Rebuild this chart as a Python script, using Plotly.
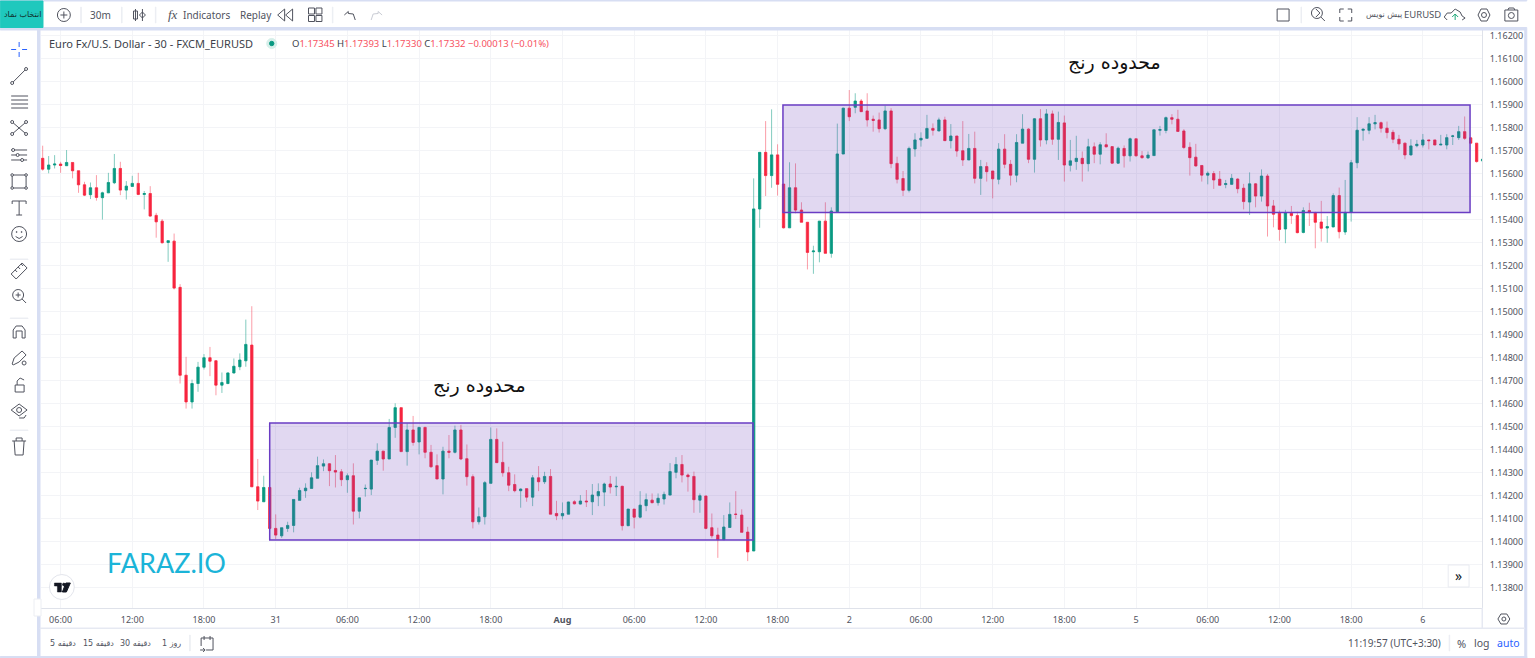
import numpy as np
import plotly.graph_objects as go

# EURUSD 30m candles, prices in points (1e-5)
open_pts = [
    115668,115621,115639,115643,115636,115650,115614,115553,115510,115540,
    115497,115518,115562,115624,115530,115546,115559,115511,115515,115420,
    115395,115302,115308,115107,114725,114609,114689,114760,114801,114788,
    114682,114689,114735,114762,114788,114856,114240,114175,114237,114059,
    114027,114059,114072,114181,114223,114233,114277,114330,114340,114311,
    114305,114271,114288,114134,114232,114230,114355,114395,114361,114498,
    114584,114393,114487,114435,114498,114390,114332,114274,114395,114390,
    114487,114362,114284,114088,114110,114255,114446,114346,114301,114250,
    114223,114232,114195,114279,114262,114285,114124,114114,114121,114175,
    114165,114178,114175,114201,114217,114252,114240,114242,114071,114143,
    114108,114158,114182,114171,114187,114204,114303,114337,114291,114285,
    114182,114200,114062,114030,114010,114063,114121,114117,114043,113961,
    115448,115694,115593,115683,115556,115366,115540,115443,115390,115262,
    115262,115395,115255,115436,115687,115886,115890,115917,115874,115838,
    115835,115797,115874,115646,115580,115529,115709,115748,115755,115798,
    115787,115835,115745,115765,115701,115661,115711,115581,115632,115613,
    115577,115708,115642,115595,115734,115795,115664,115840,115748,115861,
    115751,115822,115638,115654,115668,115645,115718,115686,115727,115719,
    115647,115711,115679,115753,115679,115670,115680,115790,115789,115845,
    115838,115787,115716,115673,115637,115595,115602,115577,115554,115555,
    115578,115538,115478,115557,115504,115591,115461,115429,115361,115429,
    115419,115346,115441,115432,115391,115365,115370,115506,115348,115433,
    115649,115790,115790,115818,115823,115799,115781,115751,115734,115683,
    115723,115726,115748,115748,115726,115726,115764,115758,115784,115757,
    115734,115657,
]
high_pts = [
    115723,115678,115682,115653,115704,115650,115614,115566,115563,115595,
    115523,115605,115687,115653,115569,115592,115605,115526,115547,115431,
    115404,115310,115341,115121,114805,114706,114783,114817,114848,114790,
    114737,114737,114798,114820,114967,115025,114361,114288,114237,114120,
    114062,114088,114185,114236,114255,114303,114371,114359,114343,114378,
    114317,114298,114342,114192,114250,114356,114429,114395,114535,114603,
    114584,114516,114548,114501,114501,114422,114381,114414,114465,114506,
    114509,114424,114294,114150,114265,114498,114494,114436,114327,114294,
    114233,114233,114291,114330,114305,114317,114179,114172,114175,114182,
    114204,114226,114252,114255,114258,114287,114284,114245,114143,114143,
    114221,114211,114211,114211,114219,114343,114369,114378,114298,114306,
    114211,114201,114124,114062,114117,114172,114221,114142,114066,115581,
    115694,115830,115881,115729,115556,115651,115646,115477,115390,115288,
    115395,115477,115455,115819,115888,115965,115951,115926,115951,115854,
    115867,115897,115886,115675,115613,115719,115777,115781,115857,115820,
    115845,115849,115817,115765,115830,115774,115784,115661,115651,115613,
    115734,115773,115661,115773,115860,115799,115843,115882,115882,115876,
    115871,115854,115748,115766,115698,115753,115737,115738,115777,115719,
    115719,115724,115758,115753,115700,115698,115792,115809,115850,115860,
    115879,115795,115738,115731,115639,115611,115613,115613,115574,115600,
    115581,115557,115607,115560,115620,115600,115487,115441,115444,115461,
    115436,115455,115475,115436,115483,115417,115516,115541,115574,115661,
    115847,115799,115847,115857,115828,115828,115792,115770,115736,115751,
    115748,115774,115748,115748,115770,115773,115770,115809,115850,115760,
    115734,115668,
]
low_pts = [
    115614,115603,115624,115605,115636,115581,115518,115504,115491,115484,
    115402,115518,115556,115508,115489,115546,115508,115446,115414,115323,
    115298,115218,115098,114689,114580,114580,114653,114750,114721,114638,
    114648,114686,114733,114747,114762,114240,114139,114175,114059,114013,
    114018,114044,114042,114181,114192,114233,114277,114308,114243,114237,
    114243,114214,114076,114103,114197,114204,114335,114310,114361,114453,
    114393,114332,114419,114381,114364,114323,114274,114207,114364,114385,
    114356,114245,114059,114076,114076,114255,114345,114284,114221,114216,
    114149,114175,114156,114221,114252,114121,114095,114098,114121,114163,
    114163,114152,114117,114156,114156,114211,114200,114050,114069,114059,
    114103,114134,114168,114158,114163,114204,114277,114259,114219,114127,
    114127,114055,114016,113931,114010,114063,114100,114042,113917,113961,
    115366,115504,115540,115506,115363,115366,115429,115390,115185,115166,
    115216,115255,115236,115436,115687,115830,115864,115871,115806,115784,
    115780,115791,115625,115559,115504,115520,115675,115719,115755,115767,
    115787,115745,115711,115675,115635,115661,115559,115509,115567,115494,
    115555,115625,115550,115564,115734,115647,115606,115719,115729,115727,
    115661,115567,115611,115618,115567,115611,115647,115642,115716,115644,
    115644,115628,115654,115676,115666,115666,115680,115767,115777,115816,
    115785,115708,115593,115632,115567,115555,115535,115550,115538,115552,
    115516,115446,115422,115455,115480,115328,115368,115310,115299,115383,
    115342,115342,115374,115277,115306,115301,115368,115320,115335,115393,
    115625,115745,115773,115794,115780,115755,115734,115705,115664,115680,
    115716,115715,115707,115726,115726,115707,115726,115748,115748,115734,
    115649,115657,
]
close_pts = [
    115621,115639,115643,115637,115650,115614,115553,115508,115540,115498,
    115518,115563,115624,115530,115547,115559,115511,115515,115417,115392,
    115301,115310,115104,114725,114609,114689,114760,114801,114786,114682,
    114693,114735,114764,114791,114859,114240,114178,114237,114059,114030,
    114062,114072,114185,114224,114234,114279,114332,114340,114310,114304,
    114271,114288,114134,114192,114233,114356,114395,114361,114498,114584,
    114393,114487,114433,114498,114390,114327,114274,114395,114390,114487,
    114361,114284,114088,114110,114258,114446,114345,114301,114247,114223,
    114230,114195,114279,114262,114285,114121,114114,114124,114174,114166,
    114178,114175,114204,114219,114252,114239,114242,114071,114143,114108,
    114160,114184,114171,114190,114207,114306,114337,114291,114284,114184,
    114201,114059,114027,114010,114065,114120,114120,114042,113957,115448,
    115694,115593,115683,115555,115366,115540,115443,115390,115259,115265,
    115395,115255,115439,115687,115886,115849,115917,115871,115835,115833,
    115797,115874,115645,115577,115529,115711,115748,115755,115798,115790,
    115835,115745,115765,115700,115661,115711,115581,115632,115610,115579,
    115708,115642,115595,115737,115795,115664,115840,115748,115861,115751,
    115824,115639,115657,115668,115645,115718,115686,115727,115718,115647,
    115712,115679,115753,115679,115671,115682,115792,115793,115845,115838,
    115785,115715,115671,115635,115595,115603,115574,115551,115558,115581,
    115536,115480,115557,115504,115591,115461,115425,115359,115432,115419,
    115345,115441,115432,115390,115364,115371,115506,115349,115433,115649,
    115790,115794,115818,115823,115799,115780,115751,115731,115683,115722,
    115729,115748,115745,115726,115729,115758,115765,115784,115755,115734,
    115654,115664,
]

# every 12th bar gets a time label, starting at bar 4
time_labels = ["06:00", "12:00", "18:00", "31", "06:00", "12:00", "18:00", "<b>Aug</b>",
               "06:00", "12:00", "18:00", "2", "06:00", "12:00", "18:00", "5",
               "06:00", "12:00", "18:00", "6"]
time_ticks = [4 + 12 * i for i in range(len(time_labels))]

# the two range boxes: first bar, last bar, top price, bottom price
range_low_box = [39.0, 119.9, 1.14517, 1.14009]
range_high_box = [124.9, 239.9, 1.15900, 1.15432]

GREEN = "#089981"
RED = "#f7253f"
GREEN_WICK = "rgba(8,153,129,0.5)"
RED_WICK = "rgba(247,37,63,0.45)"
TEXT = "#50535e"
FRAME = "#d7def3"
BOX = "#6a3cc4"
ICON = "#50535e"
SEP = "#eceef3"
FONT = "Noto Sans, DejaVu Sans, sans-serif"

opens = np.array(open_pts) / 1e5
highs = np.array(high_pts) / 1e5
lows = np.array(low_pts) / 1e5
closes = np.array(close_pts) / 1e5
bars = np.arange(1, len(opens) + 1)

# plot area in page pixels
PL, PR, PT, PB = 41, 1490, 30, 608


def X(px):
    return (px - PL) / (PR - PL)


def Y(py):
    return (PB - py) / (PB - PT)


fig = go.Figure()

# wicks first in a lighter colour, then the solid bodies on top
fig.add_trace(go.Candlestick(
    x=bars, open=opens, high=highs, low=lows, close=closes,
    increasing=dict(line=dict(color=GREEN_WICK, width=1), fillcolor="rgba(0,0,0,0)"),
    decreasing=dict(line=dict(color=RED_WICK, width=1), fillcolor="rgba(0,0,0,0)"),
    whiskerwidth=0, hoverinfo="skip",
))
fig.add_trace(go.Candlestick(
    x=bars, open=opens, close=closes,
    high=np.maximum(opens, closes), low=np.minimum(opens, closes),
    increasing=dict(line=dict(color=GREEN, width=0.5), fillcolor=GREEN),
    decreasing=dict(line=dict(color=RED, width=0.5), fillcolor=RED),
    whiskerwidth=0,
))

shapes = []
texts = []


def box(x0, y0, x1, y1, fill="rgba(0,0,0,0)", color=ICON, width=1):
    shapes.append(dict(type="rect", xref="paper", yref="paper",
                       x0=X(x0), x1=X(x1), y0=Y(y0), y1=Y(y1), fillcolor=fill,
                       line=dict(color=color, width=width), layer="above"))


def ring(cx, cy, r, fill="rgba(0,0,0,0)", color=ICON, width=1):
    shapes.append(dict(type="circle", xref="paper", yref="paper",
                       x0=X(cx - r), x1=X(cx + r), y0=Y(cy - r), y1=Y(cy + r),
                       fillcolor=fill, line=dict(color=color, width=width)))


def stroke(points, color=ICON, width=1, closed=False, fill="rgba(0,0,0,0)"):
    d = "M" + " L".join(f"{X(a):.5f},{Y(b):.5f}" for a, b in points)
    shapes.append(dict(type="path", xref="paper", yref="paper", path=d + (" Z" if closed else ""),
                       fillcolor=fill, line=dict(color=color, width=width)))


def label(px, py, text, size=10, color=TEXT, anchor="center", family=FONT):
    texts.append(dict(xref="paper", yref="paper", x=X(px), y=Y(py), text=text, showarrow=False,
                      xanchor=anchor, yanchor="middle", align=anchor,
                      font=dict(size=size, color=color, family=family)))


# range boxes drawn over the candles
for bx in (range_low_box, range_high_box):
    shapes.append(dict(type="rect", xref="x", yref="y", x0=bx[0], x1=bx[1], y0=bx[3], y1=bx[2],
                       fillcolor="rgba(103,58,183,0.2)", line=dict(color=BOX, width=1.5), layer="above"))

# page frame and toolbars
box(0, 0, 1535, 1, fill=FRAME, color=FRAME)
box(0, 27.5, 1535, 30, fill=FRAME, color=FRAME)
box(37.5, 30, 40, 658, fill=FRAME, color=FRAME)
box(1533, 30, 1535, 658, fill=FRAME, color=FRAME)
box(0, 656.5, 1535, 658, fill=FRAME, color=FRAME)
box(40, 628, 1533, 628.5, fill="#e6e9f2", color="#e6e9f2")
box(1490, 608, 1490.5, 628, fill="#e6e9f2", color="#e6e9f2")
box(34, 599, 41, 616, fill="white", color="#eceef3")

# top toolbar
box(0, 1, 43, 27.5, fill="#1fc8bd", color="#1fc8bd")
label(22, 14, "انتخاب نماد", size=8, color="#10302e", family="DejaVu Sans")
ring(64, 15, 6.5)
stroke([(60.5, 15), (67.5, 15)])
stroke([(64, 11.5), (64, 18.5)])
label(101, 15, "30m", size=10)
stroke([(136, 9), (136, 21)])
box(134, 11, 138, 19)
stroke([(143, 9), (143, 21)])
stroke([(143, 12), (146, 15), (143, 18), (140, 15)], closed=True)
label(174, 15, "<i>fx</i>", size=13, family="Liberation Serif")
label(208, 15, "Indicators", size=10)
label(257, 15, "Replay", size=10)
stroke([(286, 9), (279, 15), (286, 21), (286, 9)])
stroke([(294, 9), (287, 15), (294, 21), (294, 9)])
for gx in (313, 320.5):
    for gy in (11, 18.5):
        box(gx - 3, gy - 3, gx + 3, gy + 3)
stroke([(346, 15), (350, 11.5), (350, 13.5), (355, 14), (357, 20)])
stroke([(384, 15), (380, 11.5), (380, 13.5), (375, 14), (373, 20)], color="#c9ccd4")
for sx in (81, 122, 156, 334):
    box(sx, 7, sx + 0.5, 23, fill=SEP, color=SEP)

# right end of the top toolbar
box(1284, 9, 1296, 21)
box(1308, 7, 1308.5, 23, fill=SEP, color=SEP)
ring(1324, 13, 5.5)
stroke([(1328, 17), (1332, 21)])
stroke([(1323, 9), (1327, 13), (1323, 17)])
for fx, fy, sx, sy in ((1347, 9, 1, 1), (1359, 9, -1, 1), (1347, 21, 1, -1), (1359, 21, -1, -1)):
    stroke([(fx + 4 * sx, fy), (fx, fy), (fx, fy + 4 * sy)])
label(1391, 15, "پیش نویس", size=8, family="DejaVu Sans")
label(1430, 15, "EURUSD", size=9.5)
stroke([(1455, 20), (1452, 17), (1455, 13), (1459, 13), (1463, 9), (1468, 12), (1470, 16), (1473, 18), (1470, 20)])
stroke([(1463, 20), (1463, 14)], color="#1fa97a")
stroke([(1460, 17), (1463, 14), (1466, 17)], color="#1fa97a")
stroke([(1486, 15), (1489, 9), (1495, 9), (1498, 15), (1495, 21), (1489, 21)], closed=True)
ring(1492, 15, 2.5)
box(1513, 10, 1526, 21)
ring(1519.5, 15.5, 3)
stroke([(1516, 10), (1517, 8), (1522, 8), (1523, 10)])

# left drawing tools
stroke([(19, 42), (19, 47)], color="#2962ff")
stroke([(19, 52), (19, 57)], color="#2962ff")
stroke([(11, 49.5), (16, 49.5)], color="#2962ff")
stroke([(22, 49.5), (27, 49.5)], color="#2962ff")
stroke([(12, 83), (26, 69)])
ring(12, 83, 1.5, fill="white")
ring(26, 69, 1.5, fill="white")
for ly in (96, 100, 104, 108):
    stroke([(11, ly), (28, ly)])
stroke([(12, 122), (26, 134)])
stroke([(26, 122), (12, 134)])
for cx, cy in ((12, 122), (26, 122), (12, 134), (26, 134)):
    ring(cx, cy, 1.5, fill="white")
for ly in (150, 155, 160):
    stroke([(11, ly), (27, ly)])
    ring(13 + (ly - 150) * 0.9, ly, 1.5, fill="white")
box(12, 175, 26, 188)
for cx, cy in ((12, 175), (26, 175), (12, 188), (26, 188)):
    ring(cx, cy, 1.3, fill="white")
stroke([(12, 204), (12, 201), (26, 201), (26, 204)])
stroke([(19, 201), (19, 215)])
stroke([(16, 215), (22, 215)])
ring(19, 234, 7.5)
ring(16.5, 232, 0.5)
ring(21.5, 232, 0.5)
stroke([(15.5, 236.5), (19, 238.5), (22.5, 236.5)])
stroke([(11, 274), (22, 263), (27, 268), (16, 279)], closed=True)
for tx, ty in ((15, 270), (18, 267), (21, 264)):
    stroke([(tx, ty), (tx + 2, ty + 2)])
ring(18, 295, 5.5)
stroke([(22, 299), (26, 303)])
stroke([(15.5, 295), (20.5, 295)])
stroke([(18, 292.5), (18, 297.5)])
stroke([(13, 338), (13, 330), (16, 326), (22, 326), (25, 330), (25, 338), (22, 338), (22, 331), (16, 331), (16, 338)], closed=True)
stroke([(12, 364), (14, 358), (22, 351), (26, 355), (19, 362), (13, 365)], closed=True)
ring(24, 363, 2)
box(15, 385, 24, 392)
stroke([(17, 385), (17, 381), (20, 378), (24, 380)])
stroke([(11, 410), (19, 404), (27, 410), (19, 416)], closed=True)
ring(19, 410, 2.5)
stroke([(19, 418), (24, 418), (26, 415)])
stroke([(12, 441), (26, 441)])
stroke([(16, 441), (16, 438), (22, 438), (22, 441)])
stroke([(14, 441), (15, 455), (23, 455), (24, 441)])
box(10, 259, 28, 259.5, fill=SEP, color=SEP)
box(10, 318, 28, 318.5, fill=SEP, color=SEP)
box(10, 430, 28, 430.5, fill=SEP, color=SEP)

# legend line
label(47, 43.5, "Euro Fx/U.S. Dollar - 30 - FXCM_EURUSD", size=11, color="#3b3f4a", anchor="left")
ring(273, 43.5, 5, fill="#d6efea", color="#d6efea")
ring(273, 43.5, 2.2, fill=GREEN, color=GREEN)
label(291, 43.5, "O<span style='color:#f7525f'>1.17345</span> H<span style='color:#f7525f'>1.17393</span> "
      "L<span style='color:#f7525f'>1.17330</span> C<span style='color:#f7525f'>1.17332</span> "
      "<span style='color:#f7525f'>−0.00013 (−0.01%)</span>", size=9.5, color="#3b3f4a", anchor="left")

# notes on the chart
label(1120, 63, "محدوده رنج", size=19, color="#111111", family="DejaVu Sans")
label(482, 385, "محدوده رنج", size=19, color="#111111", family="DejaVu Sans")
label(167, 562, "FARAZ.IO", size=27, color="#1bb4d8", family="Lato, Noto Sans, sans-serif")

# TradingView badge and scroll button
ring(62, 587, 12.5, fill="white", color="#e3e5ec")
box(54.5, 583, 61.5, 586, fill="#131722", color="#131722", width=0.5)
box(57.5, 586, 61.5, 592, fill="#131722", color="#131722", width=0.5)
ring(64, 584.5, 1.3, fill="#131722", color="#131722")
stroke([(66, 583), (70.5, 583), (66.5, 592), (62.5, 592)], color="#131722", closed=True, fill="#131722")
box(1456, 565, 1477, 587, fill="white", color="#e9ebf1")
label(1466.5, 575, "»", size=14, color="#131722")

# bottom bar
label(63, 643, "دقیقه 5", size=8, family="DejaVu Sans")
label(99, 643, "دقیقه 15", size=8, family="DejaVu Sans")
label(136, 643, "دقیقه 30", size=8, family="DejaVu Sans")
label(172, 643, "روز 1", size=8, family="DejaVu Sans")
box(190.5, 635, 191, 651, fill=SEP, color=SEP)
stroke([(202, 646), (202, 638), (214, 638), (214, 650), (207, 650)])
stroke([(205, 636), (205, 640)])
stroke([(211, 636), (211, 640)])
stroke([(201, 650), (206, 650)])
stroke([(204, 648), (206, 650), (204, 652)])
label(1402, 643.5, "11:19:57 (UTC+3:30)", size=10)
box(1457, 635, 1457.5, 651, fill=SEP, color=SEP)
label(1469, 643.5, "%", size=11)
label(1490, 643.5, "log", size=10.5)
label(1517, 643.5, "auto", size=10.5, color="#2962ff")
stroke([(1506, 619), (1509, 614), (1515, 614), (1518, 619), (1515, 624), (1509, 624)], closed=True)
ring(1512, 619, 2)

fig.update_layout(
    width=1535, height=658, autosize=False,
    margin=dict(l=PL, r=1535 - PR, t=PT, b=658 - PB),
    paper_bgcolor="white", plot_bgcolor="white",
    showlegend=False, boxgap=0.45,
    font=dict(family=FONT, size=9, color=TEXT),
    shapes=shapes, annotations=texts,
    xaxis=dict(range=[0.72, 241.9], rangeslider=dict(visible=False),
               tickmode="array", tickvals=time_ticks, ticktext=time_labels,
               showgrid=True, gridcolor="#f3f4f7", gridwidth=1, zeroline=False,
               showline=True, linecolor="#dfe2ea", ticks="", ticklabelstandoff=3,
               tickfont=dict(size=9, color=TEXT)),
    yaxis=dict(range=[1.13713, 1.16226], side="right",
               tick0=1.138, dtick=0.001, tickformat=".5f",
               showgrid=True, gridcolor="#f3f4f7", gridwidth=1, zeroline=False,
               showline=True, linecolor="#dfe2ea", ticks="", ticklabelstandoff=5,
               tickfont=dict(size=9, color=TEXT)),
)

fig.write_html("out.html", config={"displayModeBar": False, "responsive": False},
               default_width="1535px", default_height="658px",
               post_script="document.documentElement.style.overflow='hidden';document.body.style.margin='0';")
